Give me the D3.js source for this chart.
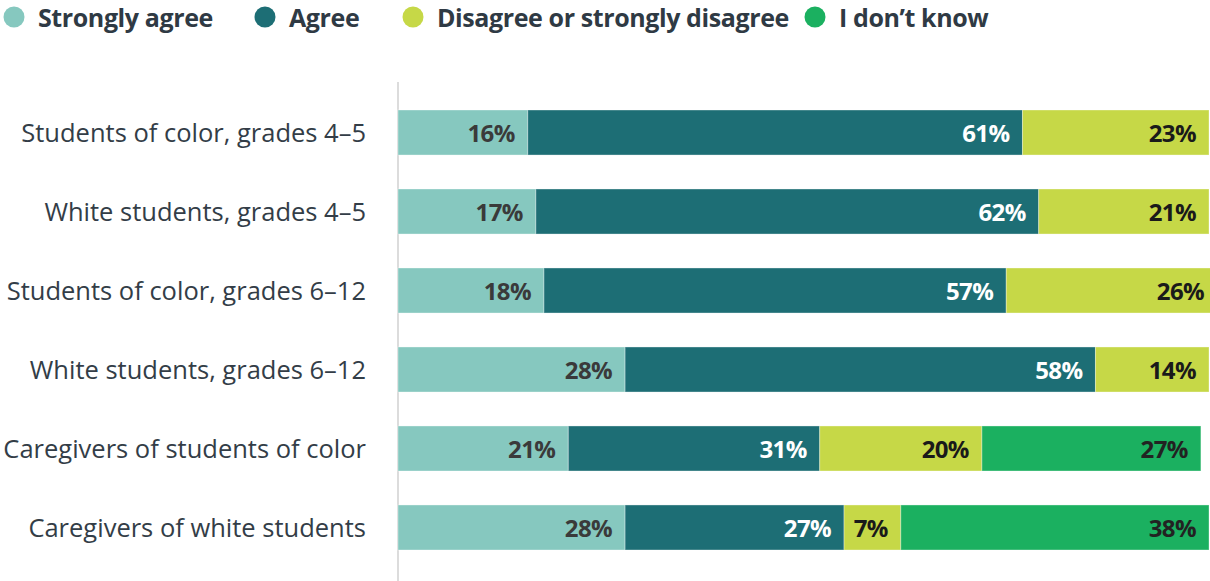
<!DOCTYPE html>
<html><head><meta charset="utf-8">
<script src="https://cdn.jsdelivr.net/npm/d3@7"></script>
<style>body{margin:0;background:#fff;} svg{display:block;font-family:"Open Sans","Noto Sans",sans-serif;}</style>
</head><body><svg id="c" width="1210" height="581"></svg>
<script>
const categories = ["Students of color, grades 4–5","White students, grades 4–5","Students of color, grades 6–12","White students, grades 6–12","Caregivers of students of color","Caregivers of white students"];
const seriesNames = ["Strongly agree","Agree","Disagree or strongly disagree","I don’t know"];
const stronglyAgree = [16,17,18,28,21,28];
const agree = [61,62,57,58,31,27];
const disagree = [23,21,26,14,20,7];
const dontKnow = [0,0,0,0,27,38];
const colors = ["#86c8bf","#1d6e75","#c6d847","#1bb060"];
const labelColors = ["#3a3a3a","#ffffff","#1a1a1a","#222222"];

const series = [stronglyAgree, agree, disagree, dontKnow];
const rows = categories.map((c,i)=>{const o={cat:c}; seriesNames.forEach((s,j)=>o[s]=series[j][i]); return o;});
const stacked = d3.stack().keys(seriesNames)(rows);

const svg = d3.select("#c");
const x = d3.scaleLinear().domain([0,100]).range([398,1209]);
const y = d3.scaleBand().domain(categories).range([110,550]).paddingInner(0.43).paddingOuter(0);

svg.append("line").attr("x1",398).attr("x2",398).attr("y1",82).attr("y2",581).attr("stroke","#dcdcdc").attr("stroke-width",2);

stacked.forEach((s,j)=>{
  const g = svg.append("g");
  g.selectAll("rect").data(s.filter(d=>d[1]-d[0]>0)).join("rect")
    .attr("x",d=>x(d[0])).attr("width",d=>x(d[1])-x(d[0]))
    .attr("y",d=>y(d.data.cat)).attr("height",y.bandwidth())
    .attr("fill",colors[j]).attr("stroke","#ffffff").attr("stroke-opacity",0.35).attr("stroke-width",1);
  g.selectAll("text").data(s.filter(d=>d[1]-d[0]>0)).join("text")
    .attr("x",d=>x(d[1])-13).attr("y",d=>y(d.data.cat)+y.bandwidth()/2)
    .attr("dy","0.4em").attr("text-anchor","end")
    .attr("font-size",24).attr("font-weight",700).attr("fill",labelColors[j])
    .attr("letter-spacing",-0.6)
    .text(d=>(d[1]-d[0])+"%");
});

svg.append("g").selectAll("text").data(categories).join("text")
  .attr("x",366).attr("y",d=>y(d)+y.bandwidth()/2).attr("dy","0.37em")
  .attr("text-anchor","end").attr("font-size",25.5).attr("font-weight",500).attr("fill","#333d47")
  .text(d=>d);

const legendX = [14,265,413,815];
const lg = svg.append("g");
seriesNames.forEach((n,j)=>{
  lg.append("circle").attr("cx",legendX[j]).attr("cy",17).attr("r",10.5).attr("fill",colors[j]);
  lg.append("text").attr("x",legendX[j]+24).attr("y",26.8)
    .attr("font-size",25).attr("font-weight",700).attr("letter-spacing",-0.4).attr("fill","#2f3a44").text(n);
});
</script></body></html>
